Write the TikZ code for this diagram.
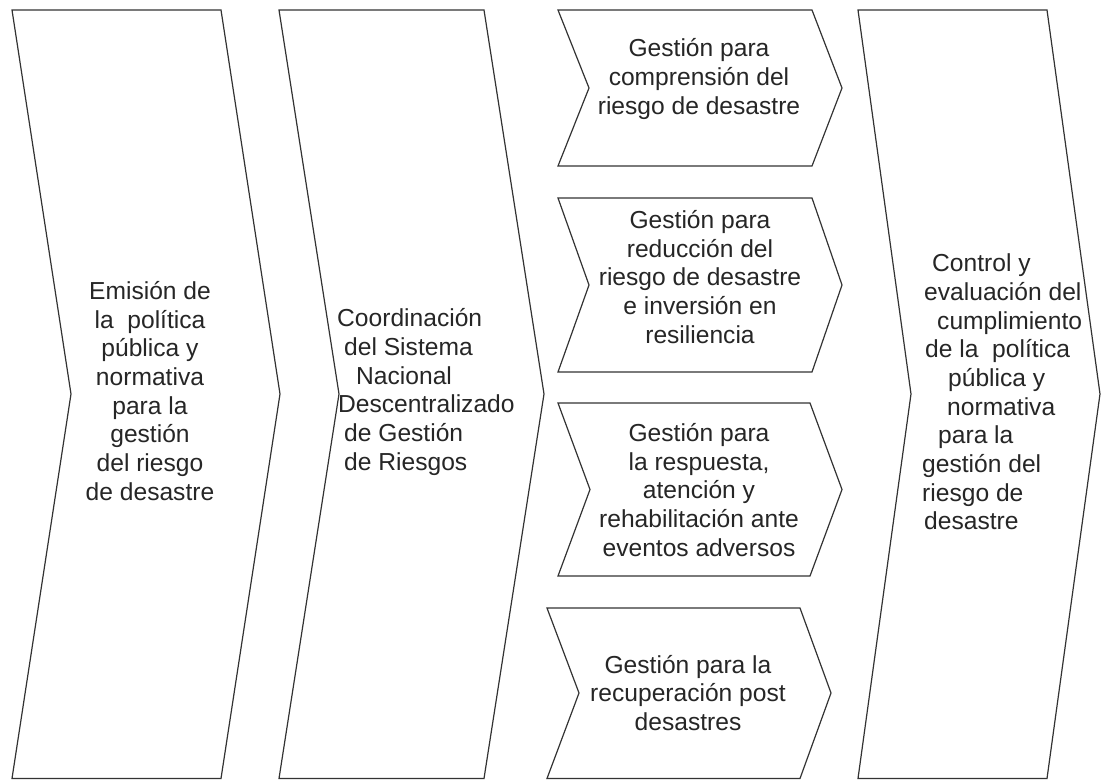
\documentclass[tikz,border=0pt]{standalone}
\usepackage{fontspec}
\setmainfont{Liberation Sans}
\begin{document}
\begin{tikzpicture}[x=1pt,y=-1pt,
  chev/.style={draw=black!80,line width=1.2pt,line join=miter,fill=white},
  txt/.style={inner sep=0pt,font=\fontsize{24.6}{28.7}\selectfont,text=black!85}]
\useasboundingbox[fill=white] (0,0) rectangle (1101,780);
% big chevron 1
\draw[chev] (12,10) coordinate (c1a) -- (221,10) -- (280,394) -- (221,778.5) -- (12,778.5) -- (71,394) -- cycle;
% big chevron 2
\draw[chev] (279,10) coordinate (c2a) -- (484,10) -- (544,394) -- (484,778.5) -- (279,778.5) -- (339,394) -- cycle;
% small chevrons
\draw[chev] (558,10) -- (812,10) -- (842,88) -- (812,166) -- (558,166) -- (589,88) -- cycle;
\draw[chev] (558,198) -- (812,198) -- (842,285) -- (812,372) -- (558,372) -- (589,285) -- cycle;
\draw[chev] (558,403) -- (810,403) -- (842,489.5) -- (810,576) -- (558,576) -- (590,489.5) -- cycle;
\draw[chev] (547,608) -- (800,608) -- (831,693) -- (800,778.5) -- (547,778.5) -- (579,693) -- cycle;
% big chevron 4
\draw[chev] (858,10) -- (1047,10) -- (1100,394) -- (1047,778.5) -- (858,778.5) -- (911,394) -- cycle;

\node[txt,align=center] (t1) at (150,391) {Emisión de\\la \ política\\pública y\\normativa\\para la\\gestión\\del riesgo\\de desastre};
\node[txt,align=left,anchor=west] (t2) at (337,392) {Coordinación\\\hspace*{7pt}del Sistema\\\hspace*{19pt}Nacional\\\hspace*{1pt}Descentralizado\\\hspace*{7pt}de Gestión\\\hspace*{7pt}de Riesgos};
\node[txt,align=center] (ta) at (699,79) {Gestión para\\comprensión del\\riesgo de desastre};
\node[txt,align=center] (tb) at (700,277) {Gestión para\\reducción del\\riesgo de desastre\\e inversión en\\resiliencia};
\node[txt,align=center] (tc) at (699,490) {Gestión para\\la respuesta,\\atención y\\rehabilitación ante\\eventos adversos};
\node[txt,align=center] (td) at (688,693) {Gestión para la\\recuperación post\\desastres};
\node[txt,align=left,anchor=west] (t4) at (922,392) {\hspace*{10pt}Control y\\\hspace*{2pt}evaluación del\\\hspace*{15pt}cumplimiento\\\hspace*{3pt}de la \ política\\\hspace*{26pt}pública y\\\hspace*{25pt}normativa\\\hspace*{16pt}para la\\gestión del\\riesgo de\\\hspace*{2pt}desastre};
\end{tikzpicture}
\end{document}
